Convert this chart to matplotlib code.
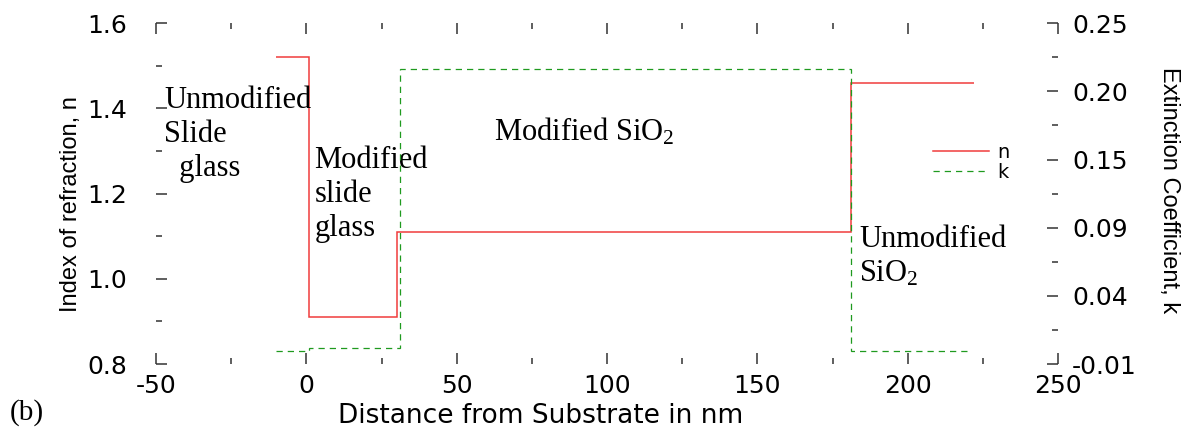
import numpy as np
import matplotlib
matplotlib.use('Agg')
import matplotlib.pyplot as plt
from matplotlib.ticker import FormatStrFormatter, MultipleLocator

plt.rcParams['mathtext.fontset'] = 'custom'
plt.rcParams['mathtext.rm'] = 'Liberation Serif'
plt.rcParams['mathtext.it'] = 'Liberation Serif'
plt.rcParams['axes.unicode_minus'] = False

# step profiles
n_edges = [-10, 1, 30, 181, 222]
n_vals = [1.52, 0.91, 1.11, 1.46]
k_edges = [-10, 1, 31, 181, 220]
k_vals = [0.0, 0.002, 0.215, 0.0]

x_ticks = [-50, 0, 50, 100, 150, 200, 250]
n_ticks = [0.8, 1.0, 1.2, 1.4, 1.6]
k_ticks = np.linspace(-0.01, 0.25, 6)

red = '#f03c3c'
green = '#1f9a1f'
tick_col = '#333333'

fig = plt.figure(figsize=(12, 4.37), dpi=100)
ax = fig.add_axes([0.13, 0.167, 0.7517, 0.78])
ax2 = ax.twinx()

ax.stairs(n_vals, n_edges, baseline=None, color=red, lw=1.1, label='n', zorder=3)
ax2.stairs(k_vals, k_edges, baseline=None, color=green, lw=0.9,
           linestyle=(0, (5, 4)), label='k', zorder=2)

ax.set_xlim(-50, 250)
ax.set_ylim(0.8, 1.6)
ax2.set_ylim(-0.01, 0.25)

ax.set_xticks(x_ticks)
ax.xaxis.set_minor_locator(MultipleLocator(25))
ax.set_yticks(n_ticks)
ax.yaxis.set_minor_locator(MultipleLocator(0.1))
ax.yaxis.set_major_formatter(FormatStrFormatter('%.1f'))
ax2.set_yticks(k_ticks)
ax2.set_yticks((k_ticks[:-1] + k_ticks[1:]) / 2, minor=True)
ax2.yaxis.set_major_formatter(FormatStrFormatter('%.2f'))

for a in (ax, ax2):
    for s in a.spines.values():
        s.set_visible(False)
    a.tick_params(which='both', direction='in', color=tick_col, width=1.1,
                  labelsize=18, labelcolor='black')
    a.tick_params(which='major', length=8)
    a.tick_params(which='minor', length=4.3)

ax.tick_params(axis='x', which='both', top=True, bottom=True, pad=7)
ax.tick_params(axis='y', which='both', left=True, right=False, pad=21)
ax2.tick_params(axis='y', which='both', pad=10)

ax.set_xlabel('Distance from Substrate in nm', fontsize=19)
ax.xaxis.set_label_coords(0.426, -0.115)
ax.set_ylabel('Index of refraction, n', fontsize=17, family='Liberation Sans')
ax.yaxis.set_label_coords(-0.082, 0.47)
ax2.set_ylabel('Extinction Coefficient, k', fontsize=17, family='Liberation Sans',
               rotation=270, va='bottom')
ax2.yaxis.set_label_coords(1.111, 0.51)

serif = dict(family='Liberation Serif', fontsize=22, va='top', linespacing=1.22)
ax.text(-47.2, 1.452, 'Unmodified\nSlide\n  glass', **serif)
ax.text(2.7, 1.312, 'Modified\nslide\nglass', **serif)
ax.text(62.5, 1.382, r'Modified SiO$_\mathregular{2}$', **serif)
ax.text(183.9, 1.127, 'Unmodified\n' + r'SiO$_\mathregular{2}$', **serif)
fig.text(0.008, 0.039, '(b)', family='Liberation Serif', fontsize=21, va='baseline')

h1, l1 = ax.get_legend_handles_labels()
h2, l2 = ax2.get_legend_handles_labels()
ax2.legend(h1 + h2, l1 + l2, loc='upper left', bbox_to_anchor=(0.861, 0.648),
           frameon=False, fontsize=14, handlelength=2.9, handletextpad=0.4,
           labelspacing=0.05, borderpad=0, borderaxespad=0)

fig.savefig('out.png', dpi=100)
